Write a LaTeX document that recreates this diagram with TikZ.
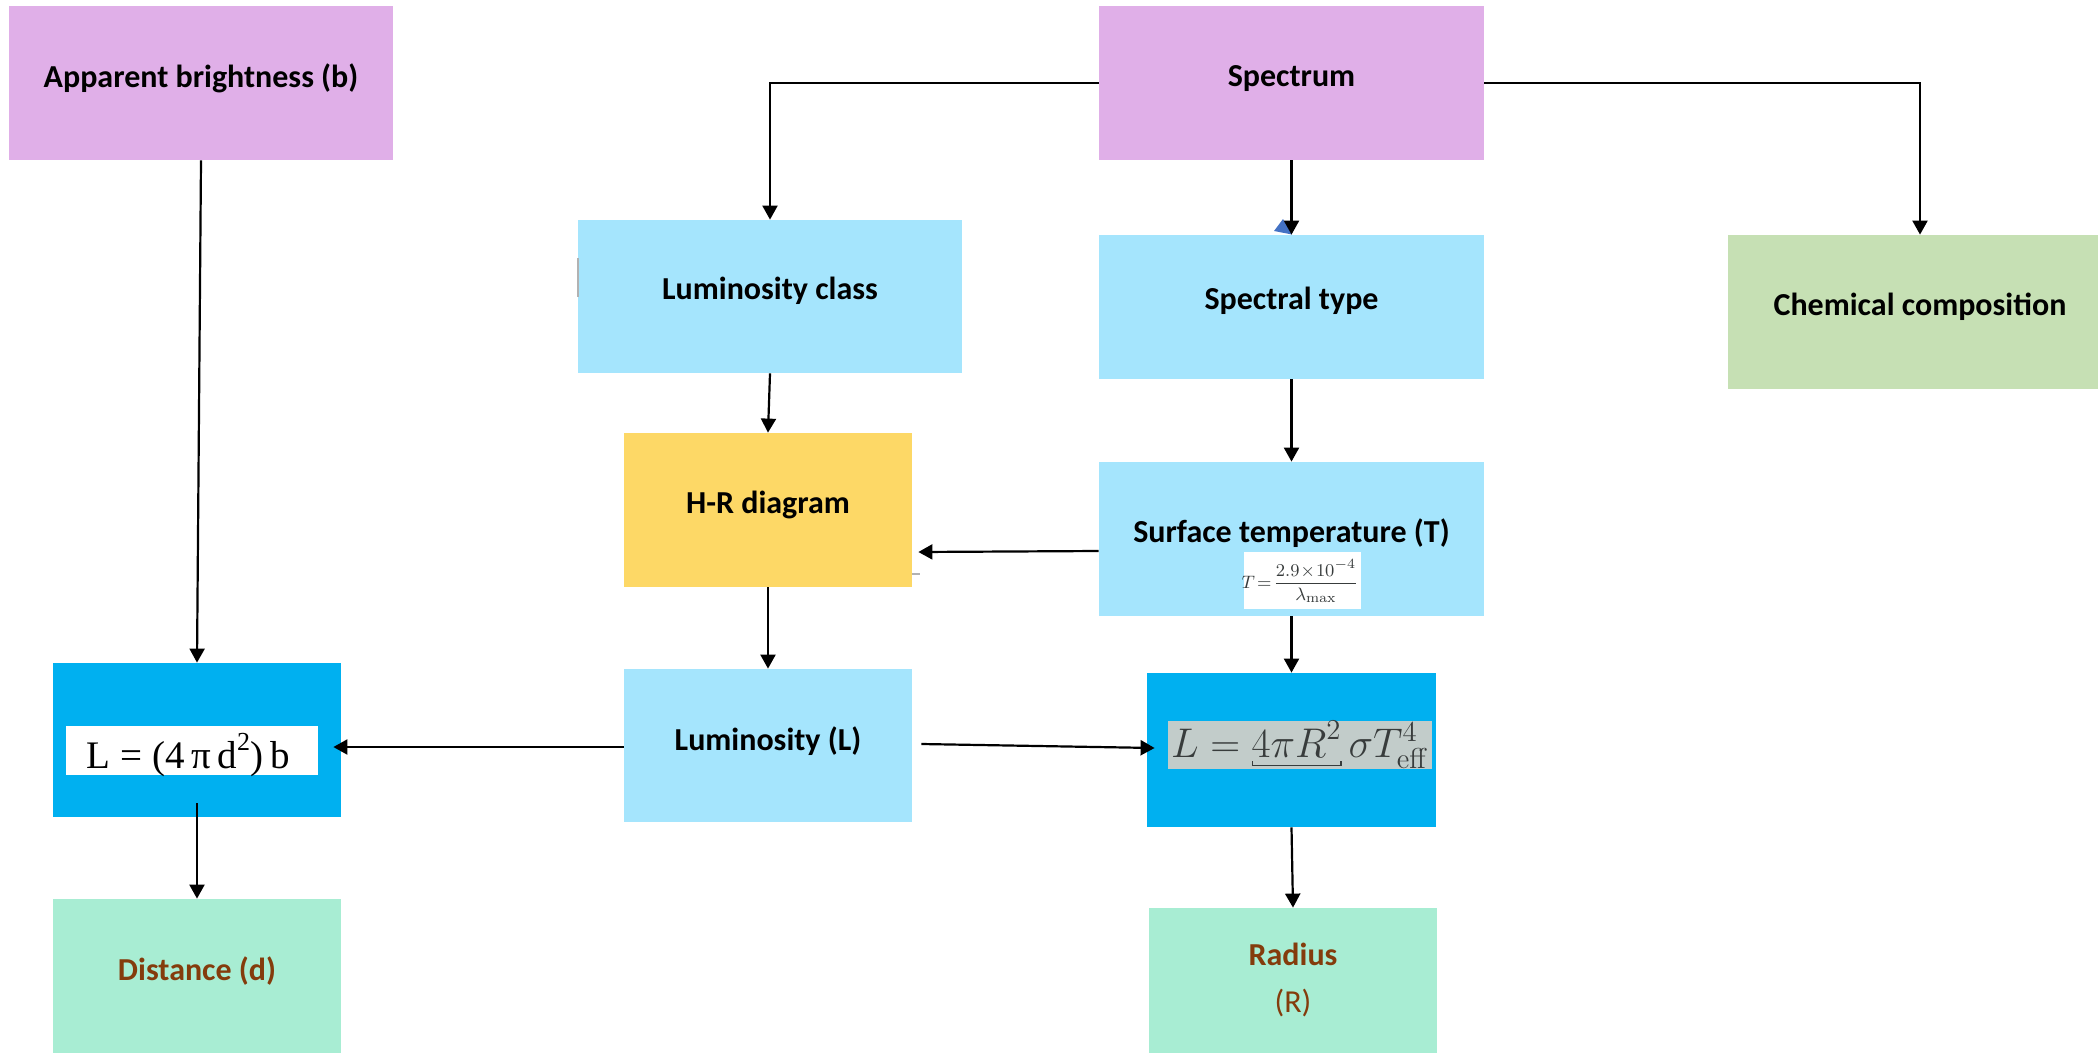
\documentclass[tikz,border=0pt]{standalone}
\usepackage{mathtools}
\usepackage[no-math]{fontspec}
\setmainfont{Carlito}
\newfontfamily\lserif{Liberation Serif}
\usetikzlibrary{arrows.meta,calc}
\definecolor{purp}{HTML}{E0AFE8}
\definecolor{lblue}{HTML}{A5E5FD}
\definecolor{dblue}{HTML}{00B0F0}
\definecolor{yell}{HTML}{FDD866}
\definecolor{lgreen}{HTML}{C6E0B4}
\definecolor{mint}{HTML}{A8EDD3}
\definecolor{brownt}{HTML}{843C0C}
\definecolor{fgray}{HTML}{C2CCCA}
\definecolor{dgray}{HTML}{383C3C}
\definecolor{artblue}{HTML}{4472C4}
\begin{document}
\begin{tikzpicture}[x=0.5pt,y=-0.5pt,
  box/.style={rectangle,inner sep=0pt,draw=none},
  lab/.style={font=\fontsize{16}{19}\selectfont\bfseries, anchor=base, inner sep=0pt},
  arr/.style={line width=1.1pt, -{Triangle[length=7pt,width=7.5pt]}}]
\useasboundingbox (0,0) rectangle (2098,1055);
\clip (0,0) rectangle (2098,1055);
% boxes
\node[box, fill=purp, minimum width=192pt, minimum height=77pt] (app) at (201,83) {};
\node[box, fill=purp, minimum width=192.5pt, minimum height=77pt] (spec) at (1291.5,83) {};
\node[box, fill=lblue, minimum width=192pt, minimum height=76.5pt] (lumc) at (770,296.5) {};
\node[box, fill=lblue, minimum width=192.5pt, minimum height=72pt] (spt) at (1291.5,307) {};
\node[box, fill=lgreen, minimum width=192pt, minimum height=77pt] (chem) at (1920,312) {};
\node[box, fill=yell, minimum width=144pt, minimum height=77pt] (hr) at (768,510) {};
\node[box, fill=lblue, minimum width=192.5pt, minimum height=77pt] (st) at (1291.5,539) {};
\node[box, fill=lblue, minimum width=144pt, minimum height=76.5pt] (lum) at (768,745.5) {};
\node[box, fill=dblue, minimum width=144pt, minimum height=77pt] (ld) at (197,740) {};
\node[box, fill=dblue, minimum width=144.5pt, minimum height=77pt] (lr) at (1291.5,750) {};
\node[box, fill=mint, minimum width=144pt, minimum height=77pt] (dist) at (197,976) {};
\node[box, fill=mint, minimum width=144pt, minimum height=72.5pt] (rad) at (1293,980.5) {};
% labels
\node[lab] (appt) at (201,87) {Apparent brightness (b)};
\node[lab] (spect) at (1291.5,86) {Spectrum};
\node[lab] (lumct) at (770,299) {Luminosity class};
\node[lab] (sptt) at (1291.5,309.5) {Spectral type};
\node[lab] (chemt) at (1920,315) {Chemical composition};
\node[lab] (hrt) at (768,513) {H-R diagram};
\node[lab] (stt) at (1291.5,542) {Surface temperature (T)};
\node[lab] (lumt) at (768,750) {Luminosity (L)};
\node[lab, text=brownt] (distt) at (197,980) {Distance (d)};
\node[lab, text=brownt] (radt) at (1293,965) {Radius};
\node[anchor=base, inner sep=0pt, font=\fontsize{16}{19}\selectfont, text=brownt] (radr) at (1293,1012) {(R)};
% formula panels
\node[box, fill=white, minimum width=58.5pt, minimum height=28.5pt] (stw) at (1302.5,580.5) {};
\node[inner sep=0pt, text=dgray] (stf) at (1300,581) {\fontsize{9.5}{11}\selectfont$T\!=\!\dfrac{2.9\!\times\!10^{-4}}{\lambda_{\max}}$};
\node[box, fill=white, minimum width=126pt, minimum height=24.5pt] (ldw) at (192,750.5) {};
\node[anchor=base, inner sep=0pt] (ldt) at (188.5,768) {\lserif\fontsize{19.5}{22}\selectfont L\hspace{5pt}=\hspace{5pt}(4\,π\,d\raisebox{0.45em}{\fontsize{13}{14}\selectfont 2})\hspace{4pt}b};
\node[box, fill=fgray, minimum width=132pt, minimum height=24pt] (lrw) at (1300,745) {};
\node[anchor=base, inner sep=0pt, text=dgray] (lrt) at (1300,757) {\fontsize{19.5}{22}\selectfont$L = \underbracket[0.6pt][2pt]{4\pi R^2}\sigma T^4_{\mathrm{eff}}$};
% small artefacts
\fill[artblue] (1274,231) -- (1283,219) -- (1292,234.5) -- cycle;
\draw[gray!60, line width=0.7pt] (578,258) -- (578,297);
\draw[gray!60, line width=0.7pt] (912,574) -- (920,574);
% connectors
\draw[arr] (spec.west) -| (lumc.north);
\draw[arr] (spec.east) -| (chem.north);
\draw[arr] (spec.south) -- (spt.north);
\draw[arr] (spt.south) -- (st.north);
\draw[arr] (lumc.south) -- (hr.north);
\draw[arr] ($(st.west)+(0,12)$) -- ($(hr.east)+(6,42)$);
\draw[arr] (st.south) -- (lr.north);
\draw[arr] (hr.south) -- (lum.north);
\draw[arr] ($(lum.west)+(0,1.5)$) -- ($(lum.west -| ld.east)+(-8,1.5)$);
\draw[arr] ($(lum.east)+(9,-1.5)$) -- ($(lr.west)+(8,-2)$);
\draw[arr] (app.south) -- (ld.north);
\draw[arr] ($(ld.south)+(0,-14)$) -- (dist.north);
\draw[arr] (lr.south) -- (rad.north);
\end{tikzpicture}
\end{document}
